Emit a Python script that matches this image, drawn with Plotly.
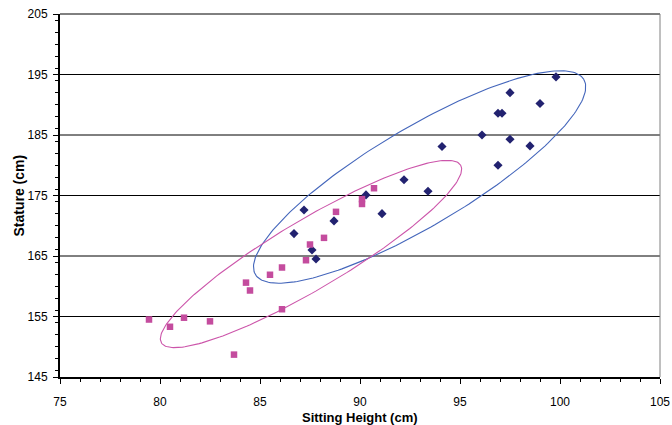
import numpy as np
import plotly.graph_objects as go

# Data
blue_x = [86.7, 87.2, 87.6, 87.8, 88.7, 90.3, 91.1, 92.2, 93.4, 94.1,
          96.1, 96.9, 97.1, 96.9, 97.5, 97.5, 98.5, 99.0, 99.8]
blue_y = [168.7, 172.6, 166.0, 164.5, 170.8, 175.1, 172.0, 177.6, 175.7, 183.1,
          185.0, 188.6, 188.6, 180.0, 192.0, 184.3, 183.2, 190.2, 194.6]

pink_x = [79.45, 80.5, 81.2, 82.5, 83.7, 84.3, 84.5, 85.5, 86.1, 86.1,
          87.3, 87.5, 88.2, 88.8, 90.1, 90.1, 90.7]
pink_y = [154.5, 153.3, 154.8, 154.2, 148.7, 160.6, 159.3, 161.9, 163.1, 156.2,
          164.3, 166.9, 168.0, 172.3, 174.4, 173.6, 176.2]

x_ticks = [75, 80, 85, 90, 95, 100, 105]
y_ticks = [145, 155, 165, 175, 185, 195, 205]

x_title = "Sitting Height (cm)"
y_title = "Stature (cm)"

# Ellipse parameters: center (data), semi-axes (screen px), tilt (deg)
blue_ell = dict(cx=92.98, cy=178.06, a=191.0, b=49.0, ang=30.7)
pink_ell = dict(cx=87.55, cy=165.33, a=174.0, b=34.5, ang=30.7)

W, H = 672, 425
ML, MR, MT, MB = 60, 12, 14, 48
XR = [75, 105]
YR = [145, 205]
pxx = (W - ML - MR) / (XR[1] - XR[0])
pxy = (H - MT - MB) / (YR[1] - YR[0])


def ellipse(e, n=240):
    t = np.linspace(0, 2 * np.pi, n)
    th = np.deg2rad(e["ang"])
    u = e["a"] * np.cos(t) * np.cos(th) - e["b"] * np.sin(t) * np.sin(th)
    v = e["a"] * np.cos(t) * np.sin(th) + e["b"] * np.sin(t) * np.cos(th)
    return e["cx"] + u / pxx, e["cy"] + v / pxy


fig = go.Figure()

bx, by = ellipse(blue_ell)
px_, py_ = ellipse(pink_ell)
fig.add_trace(go.Scatter(x=bx, y=by, mode="lines",
                         line=dict(color="#4466BB", width=1.1), hoverinfo="skip"))
fig.add_trace(go.Scatter(x=px_, y=py_, mode="lines",
                         line=dict(color="#CC55AA", width=1.1), hoverinfo="skip"))

fig.add_trace(go.Scatter(x=blue_x, y=blue_y, mode="markers",
                         marker=dict(symbol="diamond", size=7, color="#222270")))
fig.add_trace(go.Scatter(x=pink_x, y=pink_y, mode="markers",
                         marker=dict(symbol="square", size=6.5, color="#C44C9E")))

font = dict(family="Liberation Sans, Arial, sans-serif", size=12, color="#000000")

# horizontal gridlines
for v in y_ticks[1:-1]:
    fig.add_shape(type="line", xref="paper", yref="y", x0=0, x1=1, y0=v, y1=v,
                  line=dict(color="black", width=1), layer="below")
# top border (205) and gray right border
fig.add_shape(type="line", xref="paper", yref="paper", x0=0, x1=1, y0=1, y1=1,
              line=dict(color="black", width=1), layer="below")
fig.add_shape(type="line", xref="paper", yref="paper", x0=1, x1=1, y0=0, y1=1,
              line=dict(color="#808080", width=1), layer="below")

fig.add_annotation(text="<b>" + x_title + "</b>", xref="paper", yref="paper",
                   x=0.5, y=0, yshift=-40, showarrow=False,
                   xanchor="center", yanchor="middle",
                   font=dict(family=font["family"], size=13, color="black"))
fig.add_annotation(text="<b>" + y_title + "</b>", xref="paper", yref="paper",
                   x=0, y=0.5, xshift=-42, showarrow=False, textangle=-90,
                   xanchor="center", yanchor="middle",
                   font=dict(family=font["family"], size=14, color="black"))

fig.update_layout(
    width=W, height=H,
    margin=dict(l=ML, r=MR, t=MT, b=MB, autoexpand=False),
    paper_bgcolor="white", plot_bgcolor="white",
    showlegend=False,
    font=font,
    xaxis=dict(
        range=XR, tickvals=x_ticks, ticktext=[str(v) for v in x_ticks],
        showgrid=False, zeroline=False, automargin=False,
        showline=True, linecolor="black", linewidth=1.5,
        ticks="outside", ticklen=5, tickcolor="black", tickwidth=1,
        ticklabelstandoff=8,
        minor=dict(dtick=1, ticks="outside", ticklen=3, tickcolor="black", showgrid=False),
        tickfont=font,
    ),
    yaxis=dict(
        range=YR, tickvals=y_ticks, ticktext=[str(v) for v in y_ticks],
        showgrid=False, zeroline=False, automargin=False,
        showline=True, linecolor="black", linewidth=2,
        ticks="outside", ticklen=5, tickcolor="black", tickwidth=1,
        ticklabelstandoff=3,
        minor=dict(dtick=2, ticks="outside", ticklen=3, tickcolor="black", showgrid=False),
        tickfont=font,
    ),
)

fig.write_html("out.html", post_script="document.body.style.margin='0';",
               config={"displayModeBar": False})
